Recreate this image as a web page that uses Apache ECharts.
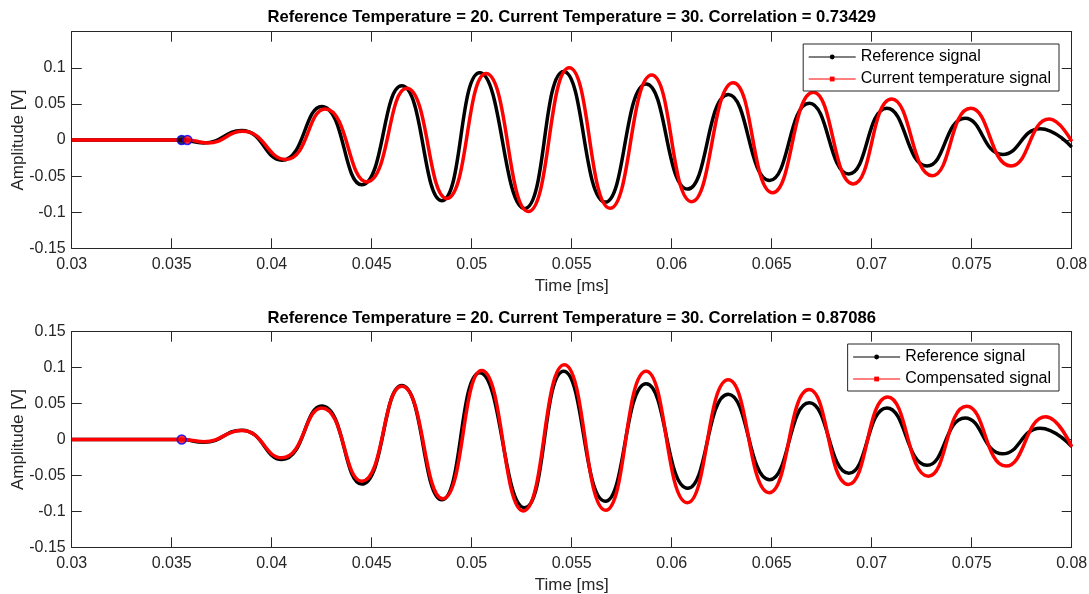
<!DOCTYPE html>
<html lang="en">
<head>
  <meta charset="UTF-8">
  <title>Reference vs current / compensated signal - ECharts</title>
  <script src="https://cdn.jsdelivr.net/npm/echarts@6/dist/echarts.min.js"></script>
  <style>
    html, body { margin: 0; padding: 0; background: #fff; }
  </style>
</head>
<body>
  <div id="main" style="width: 1089px; height: 594px;"></div>

  <script>
    // Peaks / troughs (time in ms, amplitude in V)
    const refTime = [0.030, 0.0355, 0.0366, 0.0385, 0.0405, 0.0425, 0.0445, 0.0465, 0.0485, 0.0504,
      0.05265, 0.0546, 0.05668, 0.05873, 0.0608, 0.06283, 0.0649, 0.06688, 0.06886, 0.07076,
      0.07277, 0.07467, 0.07655, 0.07842, 0.0800];
    const refAmp = [0, 0, -0.004, 0.013, -0.028, 0.0465, -0.062, 0.075, -0.084, 0.093,
      -0.095, 0.095, -0.086, 0.0777, -0.068, 0.063, -0.056, 0.051, -0.047, 0.044,
      -0.036, 0.030, -0.020, 0.0157, -0.010];

    const curTime = [0.030, 0.03578, 0.0368, 0.03855, 0.0407, 0.04267, 0.04475, 0.04675, 0.04875, 0.05072,
      0.05283, 0.05488, 0.05692, 0.059, 0.061, 0.06308, 0.06505, 0.06708, 0.06908, 0.071,
      0.07303, 0.07495, 0.07697, 0.07888, 0.0800];
    const curAmp = [0, 0, -0.004, 0.012, -0.027, 0.043, -0.058, 0.0716, -0.081, 0.092,
      -0.099, 0.100, -0.0946, 0.090, -0.0854, 0.0794, -0.073, 0.066, -0.061, 0.0568,
      -0.0494, 0.0439, -0.036, 0.029, -0.002];

    const compTime = [0.030, 0.0355, 0.0366, 0.0385, 0.0405, 0.0425, 0.0445, 0.0465, 0.04855, 0.0505,
      0.05258, 0.05463, 0.0567, 0.05872, 0.06078, 0.06283, 0.06488, 0.06687, 0.06883, 0.0708,
      0.07283, 0.07475, 0.07672, 0.0787, 0.0800];
    const compAmp = [0, 0, -0.003, 0.0125, -0.0255, 0.044, -0.058, 0.074, -0.0824, 0.096,
      -0.0995, 0.104, -0.0985, 0.095, -0.088, 0.083, -0.074, 0.0694, -0.0625, 0.0593,
      -0.051, 0.0463, -0.037, 0.0315, -0.010];

    // start points (blue circles)
    const startTop = [[0.0355, 0], [0.03578, 0]];
    const startBottom = [[0.0355, 0]];

    const titles = [
      'Reference Temperature = 20. Current Temperature = 30. Correlation = 0.73429',
      'Reference Temperature = 20. Current Temperature = 30. Correlation = 0.87086'
    ];

    const FONT = '"Liberation Sans", Arial, sans-serif';
    const AXIS_COLOR = '#262626';

    const pairs = (xs, ys) => xs.map((x, i) => [x, ys[i]]);

    let myChart = echarts.init(document.getElementById('main'));

    // one bottom/left axis with labels, one top/right axis for the box
    function xAxes(gridIndex) {
      const base = {
        type: 'value', gridIndex: gridIndex, min: 0.03, max: 0.08, interval: 0.005,
        axisLine: { onZero: false, lineStyle: { color: AXIS_COLOR, width: 1 } },
        axisTick: { inside: true, length: 10, lineStyle: { color: AXIS_COLOR } },
        splitLine: { show: false }
      };
      return [
        Object.assign({}, base, {
          position: 'bottom',
          name: 'Time [ms]', nameLocation: 'middle', nameGap: 29.5, nameMoveOverlap: false,
          nameTextStyle: { fontFamily: FONT, fontSize: 17, color: AXIS_COLOR },
          axisLabel: { fontFamily: FONT, fontSize: 16, color: AXIS_COLOR, margin: 8,
            formatter: v => String(+v.toFixed(3)) }
        }),
        Object.assign({}, base, { position: 'top', axisLabel: { show: false } })
      ];
    }

    function yAxes(gridIndex, showMax) {
      const base = {
        type: 'value', gridIndex: gridIndex, min: -0.15, max: 0.15, interval: 0.05,
        axisLine: { show: true, onZero: false, lineStyle: { color: AXIS_COLOR, width: 1 } },
        axisTick: { show: true, inside: true, length: 10, lineStyle: { color: AXIS_COLOR } },
        splitLine: { show: false }
      };
      return [
        Object.assign({}, base, {
          position: 'left',
          name: 'Amplitude [V]', nameLocation: 'middle', nameGap: 45, nameMoveOverlap: false,
          nameTextStyle: { fontFamily: FONT, fontSize: 17, color: AXIS_COLOR },
          axisLabel: { fontFamily: FONT, fontSize: 16, color: AXIS_COLOR, margin: 6,
            showMaxLabel: showMax,
            formatter: v => String(+v.toFixed(2)) }
        }),
        Object.assign({}, base, { position: 'right', axisLabel: { show: false } })
      ];
    }

    function legend(names, top) {
      return {
        data: names, orient: 'vertical', right: 30, top: top,
        itemWidth: 47, itemHeight: 6, itemGap: 6,
        padding: [5, 8, 4, 5],
        borderColor: AXIS_COLOR, borderWidth: 1, borderRadius: 0, backgroundColor: '#fff',
        lineStyle: { width: 1 },
        textStyle: { fontFamily: FONT, fontSize: 16, color: '#000', lineHeight: 16 }
      };
    }

    function signal(name, data, color, symbol, axisIndex) {
      return {
        name: name, type: 'line', data: data,
        xAxisIndex: axisIndex, yAxisIndex: axisIndex,
        smooth: 0.5, symbol: symbol, showSymbol: false,
        lineStyle: { color: color, width: 3.5 },
        itemStyle: { color: color }
      };
    }

    function starts(data, fills, axisIndex) {
      return {
        type: 'scatter', data: data.map((p, i) => ({ value: p, itemStyle: { color: fills[i] } })),
        xAxisIndex: axisIndex, yAxisIndex: axisIndex,
        symbol: 'circle', symbolSize: 9, z: 5,
        itemStyle: { borderColor: '#0000ff', borderWidth: 1.5 }
      };
    }

    const options = {
      animation: false,
      backgroundColor: '#fff',
      title: [
        { text: titles[0], left: 571.7, top: 9, textAlign: 'center', padding: 0,
          textStyle: { fontFamily: FONT, fontSize: 16.6, fontWeight: 'bold', color: '#000' } },
        { text: titles[1], left: 571.7, top: 310, textAlign: 'center', padding: 0,
          textStyle: { fontFamily: FONT, fontSize: 16.6, fontWeight: 'bold', color: '#000' } }
      ],
      grid: [
        { left: 71.7, top: 31.7, width: 1000, height: 216.6, containLabel: false, outerBoundsMode: 'none' },
        { left: 71.7, top: 331.7, width: 1000, height: 215.6, containLabel: false, outerBoundsMode: 'none' }
      ],
      xAxis: xAxes(0).concat(xAxes(1)),
      yAxis: yAxes(0, false).concat(yAxes(1, true)),
      legend: [
        legend(['Reference signal', 'Current temperature signal'], 44),
        legend(['Reference signal', 'Compensated signal'], 344)
      ],
      series: [
        signal('Reference signal', pairs(refTime, refAmp), '#000000', 'circle', 0),
        signal('Current temperature signal', pairs(curTime, curAmp), '#ff0000', 'rect', 0),
        starts(startTop, ['#000000', '#ff0000'], 0),
        signal('Reference signal', pairs(refTime, refAmp), '#000000', 'circle', 2),
        signal('Compensated signal', pairs(compTime, compAmp), '#ff0000', 'rect', 2),
        starts(startBottom, ['#ff0000'], 2)
      ]
    };

    myChart.setOption(options);
  </script>
</body>
</html>
